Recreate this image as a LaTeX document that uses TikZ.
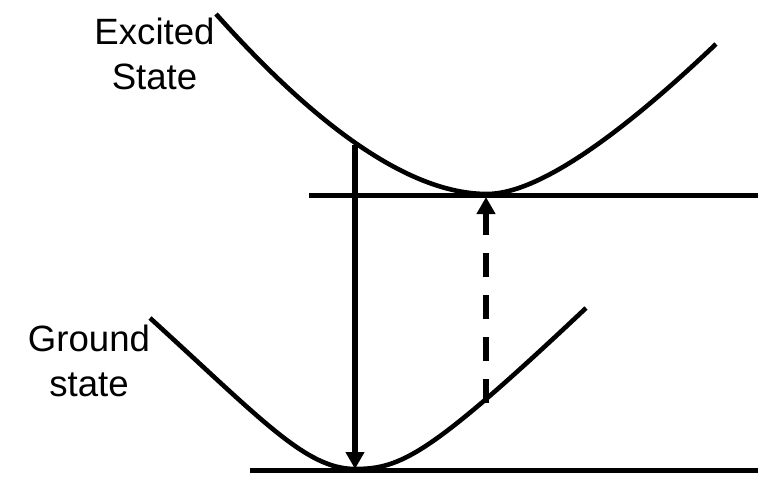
\documentclass[tikz,border=0pt]{standalone}
\usepackage{fontspec}
\setmainfont{Liberation Sans}
\usetikzlibrary{arrows.meta}
\begin{document}
\begin{tikzpicture}[x=1pt,y=-1pt,
  curve/.style={line width=4.6pt},
  level/.style={line width=5pt},
  trans/.style={line width=5.5pt,-{Triangle[length=17pt,width=18pt]}},
  label/.style={align=center,font=\fontsize{36.6}{45}\selectfont,inner sep=0pt}]
\useasboundingbox (0,0) rectangle (758,488);
% levels
\coordinate (u1) at (309,195);
\coordinate (u2) at (758,195);
\coordinate (g1) at (250,470.5);
\coordinate (g2) at (758,470.5);
\draw[level] (u1) -- (u2);
\draw[level] (g1) -- (g2);
% excited curve
\coordinate (e0) at (216,14);
\coordinate (emin) at (487,194);
\coordinate (e1) at (716,44);
\draw[curve] (e0) .. controls (323,134) and (414,194) .. (emin)
  .. controls (534,194) and (611,144) .. (e1);
% ground curve
\coordinate (gs0) at (150,318);
\coordinate (gmin) at (355,469);
\coordinate (gs1) at (586,308);
\draw[curve] (gs0) .. controls (262,420) and (306,469) .. (gmin)
  .. controls (401,469) and (430,455) .. (gs1);
% transitions
\coordinate (a0) at (355,145);
\coordinate (a1) at (355,469);
\draw[trans] (a0) -- (a1);
\coordinate (b0) at (486,403);
\coordinate (b1) at (486,197);
\draw[trans,dash pattern=on 24pt off 18pt] (b0) -- (b1);
% labels
\node[label] (exc) at (154.5,54) {Excited\\State};
\node[label] (gnd) at (89,361) {Ground\\state};
\end{tikzpicture}
\end{document}
